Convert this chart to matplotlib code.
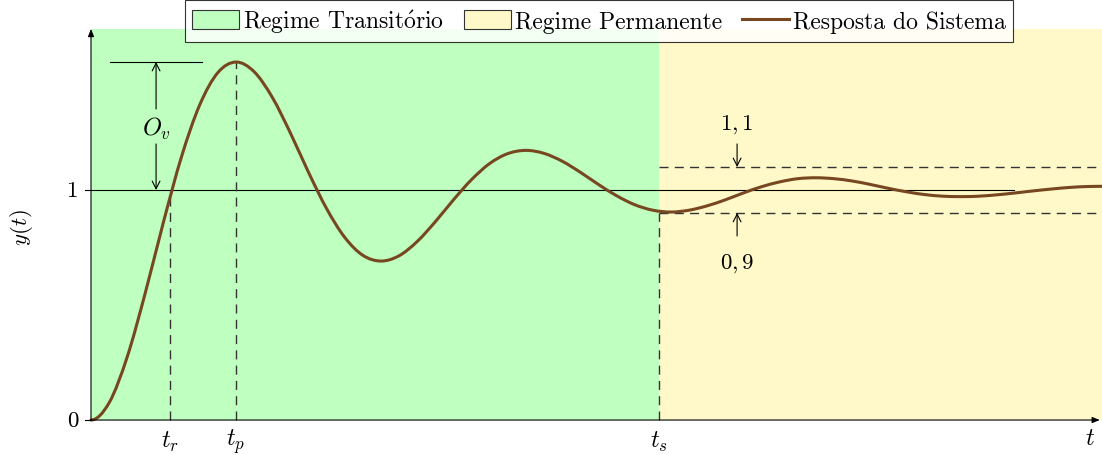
import numpy as np
import matplotlib
matplotlib.use("Agg")
import matplotlib.pyplot as plt
from matplotlib.path import Path
from matplotlib.patches import PathPatch, Patch
from matplotlib.lines import Line2D

plt.rcParams["font.family"] = ["cmr10", "DejaVu Serif"]
plt.rcParams["mathtext.fontset"] = "cm"
plt.rcParams["axes.unicode_minus"] = False
plt.rcParams["lines.scale_dashes"] = False

# resposta ao degrau (amostras a cada pi/8 s)
t = np.linspace(0, 21.99, 57)
y = [0.000, 0.075, 0.275, 0.554, 0.861, 1.146, 1.370, 1.510, 1.556, 1.514,
     1.403, 1.248, 1.077, 0.919, 0.794, 0.716, 0.691, 0.714, 0.776, 0.862,
     0.957, 1.045, 1.115, 1.158, 1.172, 1.159, 1.125, 1.077, 1.024, 0.975,
     0.936, 0.912, 0.904, 0.912, 0.931, 0.957, 0.987, 1.014, 1.035, 1.049,
     1.053, 1.049, 1.039, 1.024, 1.007, 0.992, 0.980, 0.973, 0.971, 0.973,
     0.979, 0.987, 0.996, 1.004, 1.011, 1.015, 1.016]

t_r, t_p, t_s = 1.71, 3.14, 12.31
y_final = 1.0
faixa = [0.9, 1.1]
t_labels = ["$t_r$", "$t_p$", "$t_s$"]
leg_labels = [r"Regime Transit$\mathrm{\acute{o}}$rio", "Regime Permanente",
              "Resposta do Sistema"]

cor_trans = "#bfffbf"
cor_perm = "#fff9c9"
cor_curva = "#764720"
fs = 16.5

fig = plt.figure(figsize=(11.02, 4.56), dpi=100)
ax = fig.add_axes([0, 0, 1, 1])
ax.set_xlim(-1.972, 21.907)
ax.set_ylim(-0.152, 1.830)
ax.axis("off")

y_top = 1.70
ax.fill_between([0, t_s], 0, y_top, color=cor_trans, lw=0, zorder=0)
ax.fill_between([t_s, 21.907], 0, y_top, color=cor_perm, lw=0, zorder=0)

# eixos com setas
arrow_kw = dict(arrowstyle="-|>,head_length=0.45,head_width=0.18", color="black", lw=0.8,
                shrinkA=0, shrinkB=0)
ax.annotate("", xy=(0, y_top), xytext=(0, 0), arrowprops=arrow_kw, zorder=5)
ax.annotate("", xy=(21.86, 0), xytext=(0, 0), arrowprops=arrow_kw, zorder=5)

# ticks dos eixos
ax.plot([-0.13, 0], [0, 0], color="black", lw=0.8, zorder=5)
ax.plot([-0.13, 20.0], [y_final, y_final], color="black", lw=0.8, zorder=2)
ax.text(-0.28, 0, "0", ha="right", va="center", fontsize=fs)
ax.text(-0.28, y_final, "1", ha="right", va="center", fontsize=fs)
ax.text(-1.5, 0.84, "$y(t)$", rotation=90, ha="center", va="center", fontsize=fs)
ax.text(21.65, -0.08, "$t$", ha="center", va="center", fontsize=fs + 1)

# linhas tracejadas auxiliares
dash = dict(color="#333333", lw=1.0, linestyle=(0, (6.5, 4.5)), zorder=3)
i_pk = int(np.argmax(y))
ax.plot([t_r, t_r], [0, y_final], **dash)
ax.plot([t_p, t_p], [0, y[i_pk]], **dash)
ax.plot([t_s, t_s], [0, faixa[0]], **dash)
for lvl in faixa:
    ax.plot([t_s, 21.907], [lvl, lvl], **dash)
for tx, lab in zip([t_r, t_p, t_s], t_labels):
    ax.text(tx, -0.09, lab, ha="center", va="center", fontsize=fs + 1)

# sobressinal
ax.plot([0.41, 2.41], [y[i_pk], y[i_pk]], color="black", lw=0.8, zorder=3)
ov_kw = dict(arrowstyle="->,head_length=0.55,head_width=0.28", color="black", lw=0.8,
             shrinkA=0, shrinkB=0)
ax.annotate("", xy=(1.41, y[i_pk]), xytext=(1.41, 1.352), arrowprops=ov_kw, zorder=3)
ax.annotate("", xy=(1.41, y_final), xytext=(1.41, 1.20), arrowprops=ov_kw, zorder=3)
ax.text(1.41, 1.27, "$O_v$", ha="center", va="center", fontsize=fs + 1)

# faixa de 10%
ax.annotate("", xy=(14.0, faixa[1]), xytext=(14.0, 1.2), arrowprops=ov_kw, zorder=3)
ax.annotate("", xy=(14.0, faixa[0]), xytext=(14.0, 0.80), arrowprops=ov_kw, zorder=3)
ax.text(14.0, 1.287, "$1,1$", ha="center", va="center", fontsize=fs)
ax.text(14.0, 0.685, "$0,9$", ha="center", va="center", fontsize=fs)

# curva suave (Catmull-Rom -> Bezier); partida com derivada nula
pts = np.column_stack([t, y])
p_ini = np.array([2 * pts[0][0] - pts[1][0], pts[1][1]])
ext = np.vstack([p_ini, pts, 2 * pts[-1] - pts[-2]])
verts = [pts[0]]
codes = [Path.MOVETO]
for i in range(1, len(ext) - 2):
    p0, p1, p2, p3 = ext[i - 1], ext[i], ext[i + 1], ext[i + 2]
    verts += [p1 + (p2 - p0) / 6, p2 - (p3 - p1) / 6, p2]
    codes += [Path.CURVE4] * 3
ax.add_patch(PathPatch(Path(verts, codes), fill=False, edgecolor=cor_curva, lw=2.2,
                       zorder=4, capstyle="round", joinstyle="round"))

handles = [Patch(facecolor=cor_trans, edgecolor="#333333", lw=0.8),
           Patch(facecolor=cor_perm, edgecolor="#333333", lw=0.8),
           Line2D([], [], color=cor_curva, lw=2.2)]
leg = fig.legend(handles, leg_labels, loc="upper center", ncol=3,
                 bbox_to_anchor=(599 / 1102, 1 - 1 / 456), fontsize=17,
                 frameon=True, fancybox=False, edgecolor="black",
                 handlelength=2.0, handleheight=0.8, handletextpad=0.15,
                 columnspacing=0.85, borderpad=0.3, borderaxespad=0)
leg.get_frame().set_linewidth(0.8)

fig.savefig("out.png", dpi=100)
